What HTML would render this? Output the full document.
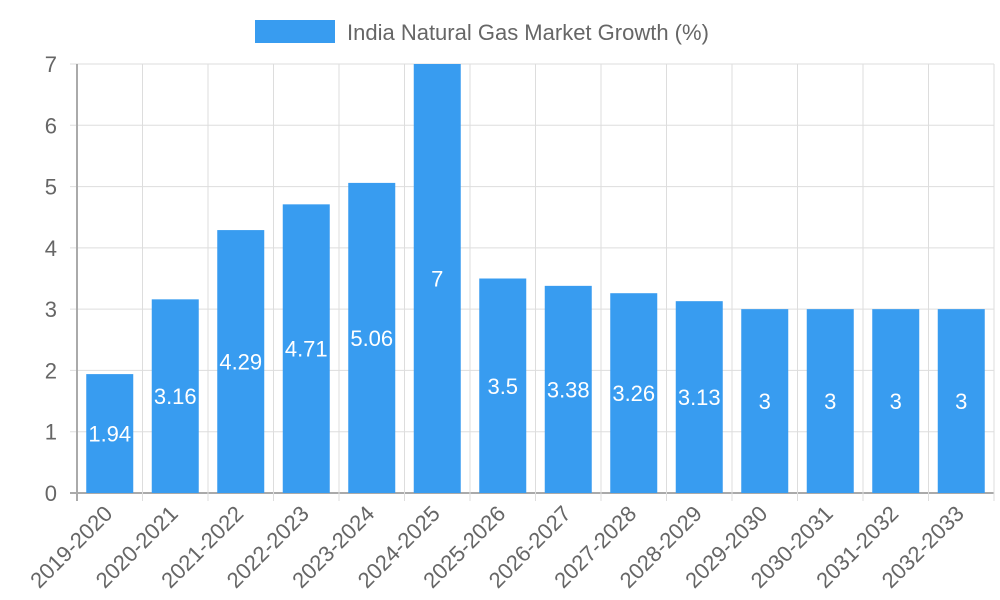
<!DOCTYPE html>
<html><head><meta charset="utf-8"><style>
body{margin:0;background:#fff;}
svg{display:block;font-family:"Liberation Sans",sans-serif;}
</style></head><body>
<svg id="chart" width="1000" height="600">
<g>
<rect x="255" y="20" width="80" height="23" fill="#389cf0"/>
<text x="347" y="40" font-size="22" fill="#666">India Natural Gas Market Growth (%)</text>
</g>
<g id="grid"></g><g id="bars"></g><g id="labels"></g><g id="axes"></g>
</svg>
<script>
const categories=["2019-2020","2020-2021","2021-2022","2022-2023","2023-2024","2024-2025","2025-2026","2026-2027","2027-2028","2028-2029","2029-2030","2030-2031","2031-2032","2032-2033"];
const values=[1.94,3.16,4.29,4.71,5.06,7,3.5,3.38,3.26,3.13,3,3,3,3];
const yTicks=[0,1,2,3,4,5,6,7];
const NS="http://www.w3.org/2000/svg";
const X0=77,X1=994,Y0=493,Y1=64,YMAX=7;
const bw=(X1-X0)/categories.length;
function xs(i){return X0+bw*i;}
function ys(v){return Y0-(v/YMAX)*(Y0-Y1);}
function mk(p,tag,a){const e=document.createElementNS(NS,tag);for(const k in a)e.setAttribute(k,a[k]);p.appendChild(e);return e;}
const g=document.getElementById('grid'),b=document.getElementById('bars'),l=document.getElementById('labels'),ax=document.getElementById('axes');
yTicks.forEach(t=>{
 const ln=mk(g,'line',{x1:70,x2:X1,y1:ys(t),y2:ys(t),stroke:t===0?'#aaa':'#ddd','stroke-width':t===0?2:1});
 
 
 const tx=mk(ax,'text',{x:57,y:ys(t)+8,'font-size':22,fill:'#666','text-anchor':'end'});
 tx.textContent=t;
 
 
});
for(let i=0;i<=categories.length;i++){
 const ln=mk(g,'line',{x1:xs(i),x2:xs(i),y1:Y1,y2:Y0+8,stroke:i===0?'#aaa':'#ddd','stroke-width':i===0?2:1});
 
 
}
categories.forEach((c,i)=>{
 const v=values[i],cx=xs(i)+bw/2,w=47;
 const r=mk(b,'rect',{x:cx-w/2,y:ys(v),width:w,height:Y0-ys(v),fill:'#389cf0'});
 
 
 const t=mk(l,'text',{x:cx,y:ys(v/2)+8,'font-size':22,fill:'#fff','text-anchor':'middle'});
 t.textContent=v;
 
 
 const xl=mk(ax,'text',{x:cx+4,y:Y0+22,'font-size':22,fill:'#666','text-anchor':'end',transform:`rotate(-45 ${cx+4} ${Y0+22})`});
 xl.textContent=c;
 
 
});
</script>
</body></html>
